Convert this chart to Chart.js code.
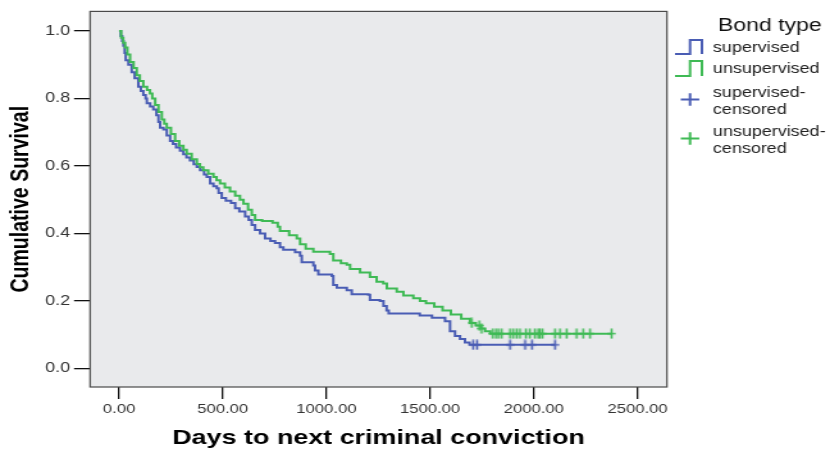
<!DOCTYPE html>
<html>
<head>
<meta charset="utf-8">
<script src="https://cdn.jsdelivr.net/npm/chart.js@4/dist/chart.umd.min.js"></script>
<style>
  html, body { margin: 0; padding: 0; background: #ffffff; }
  #wrap { width: 648px; height: 456px; transform: scaleX(1.28086); transform-origin: 0 0; }
</style>
</head>
<body>
<div id="wrap"><canvas id="km" width="648" height="456"></canvas></div>
<script>
// Kaplan-Meier estimates: event day and survival proportion after that event
const supervisedDays = [0, 8, 15, 21, 27, 32, 45, 61, 75, 93, 105, 117, 128, 134, 150, 165, 180, 190, 198, 214, 230, 246, 260, 275, 294, 310, 325, 342, 360, 375, 391, 410, 423, 439, 455, 471, 480, 495, 515, 540, 560, 580, 608, 625, 640, 656, 680, 704, 730, 752, 776, 792, 849, 873, 881, 937, 945, 961, 1026, 1033, 1050, 1098, 1122, 1202, 1210, 1258, 1275, 1290, 1300, 1450, 1509, 1572, 1596, 1620, 1644, 1668, 1690, 2102];
const supervisedSurvival = [1.0, 0.985, 0.97, 0.956, 0.935, 0.913, 0.90, 0.878, 0.86, 0.835, 0.822, 0.81, 0.80, 0.786, 0.776, 0.767, 0.75, 0.73, 0.713, 0.708, 0.69, 0.674, 0.665, 0.655, 0.645, 0.635, 0.625, 0.616, 0.605, 0.597, 0.587, 0.575, 0.567, 0.548, 0.54, 0.534, 0.52, 0.505, 0.497, 0.49, 0.475, 0.465, 0.45, 0.44, 0.425, 0.41, 0.40, 0.385, 0.378, 0.372, 0.359, 0.352, 0.344, 0.334, 0.315, 0.305, 0.29, 0.278, 0.274, 0.247, 0.239, 0.232, 0.22, 0.218, 0.203, 0.20, 0.185, 0.172, 0.163, 0.157, 0.15, 0.14, 0.11, 0.096, 0.087, 0.077, 0.07, 0.07];

const unsupervisedDays = [0, 10, 20, 29, 40, 53, 70, 85, 100, 117, 135, 149, 160, 174, 190, 206, 218, 230, 250, 270, 290, 310, 326, 350, 375, 390, 406, 430, 455, 470, 487, 510, 535, 560, 583, 600, 622, 640, 656, 690, 740, 765, 776, 820, 857, 873, 900, 937, 1017, 1033, 1070, 1098, 1114, 1162, 1210, 1242, 1274, 1291, 1339, 1371, 1419, 1451, 1480, 1520, 1560, 1600, 1650, 1692, 1720, 1745, 1765, 1790, 2375];
const unsupervisedSurvival = [1.0, 0.98, 0.965, 0.951, 0.93, 0.908, 0.89, 0.869, 0.852, 0.835, 0.825, 0.815, 0.80, 0.781, 0.76, 0.738, 0.725, 0.713, 0.695, 0.674, 0.66, 0.648, 0.636, 0.62, 0.606, 0.596, 0.587, 0.577, 0.567, 0.558, 0.548, 0.536, 0.524, 0.512, 0.50, 0.488, 0.47, 0.455, 0.44, 0.437, 0.432, 0.42, 0.407, 0.395, 0.385, 0.368, 0.355, 0.346, 0.339, 0.32, 0.312, 0.307, 0.295, 0.284, 0.271, 0.257, 0.252, 0.237, 0.227, 0.216, 0.208, 0.20, 0.193, 0.183, 0.172, 0.16, 0.147, 0.135, 0.127, 0.118, 0.11, 0.103, 0.103];

// Censored observation days
const supervisedCensored = [1707, 1726, 1885, 1958, 1991, 2102];
const unsupervisedCensored = [1700, 1737, 1748, 1802, 1817, 1829, 1845, 1885, 1901, 1917, 1933, 1962, 1981, 2005, 2021, 2029, 2042, 2102, 2126, 2158, 2206, 2238, 2271, 2375];

// Axis ticks
const xTicks = [0, 500, 1000, 1500, 2000, 2500];
const yTicks = [0.0, 0.2, 0.4, 0.6, 0.8, 1.0];

const BLUE = '#4a5db4';
const GREEN = '#3fba55';
const FONT = '"Liberation Sans", Arial, sans-serif';

function toPoints(days, surv) {
  return days.map((d, i) => ({ x: d, y: surv[i] }));
}
// survival value of a step curve at day t
function survivalAt(days, surv, t) {
  let v = surv[0];
  for (let i = 0; i < days.length; i++) { if (days[i] <= t) v = surv[i]; }
  return v;
}
function censorPoints(cDays, days, surv) {
  return cDays.map(d => ({ x: d, y: survivalAt(days, surv, d) }));
}
// narrow "+" marker used for censored cases
function plusMarker(color) {
  const c = document.createElement('canvas');
  c.width = 7; c.height = 11;
  const g = c.getContext('2d');
  g.strokeStyle = color; g.lineWidth = 1.6;
  g.beginPath();
  g.moveTo(3.5, 0.5); g.lineTo(3.5, 10.5);
  g.moveTo(0.3, 5.5); g.lineTo(6.7, 5.5);
  g.stroke();
  return c;
}

const plotFrame = {
  id: 'plotFrame',
  beforeDraw(chart) {
    const { ctx, chartArea: a } = chart;
    ctx.save();
    ctx.fillStyle = '#e9eaec';
    ctx.fillRect(a.left, a.top, a.right - a.left, a.bottom - a.top);
    ctx.restore();
  },
  afterDatasetsDraw(chart) {
    const { ctx, chartArea: a } = chart;
    ctx.save();
    ctx.strokeStyle = '#4a4a4a';
    ctx.lineWidth = 1.2;
    ctx.strokeRect(a.left, a.top, a.right - a.left, a.bottom - a.top);
    ctx.restore();
  }
};

// condensed, rotated y-axis title centred on the plot area
const yAxisTitle = {
  id: 'yAxisTitle',
  afterDraw(chart) {
    const { ctx, chartArea: a } = chart;
    ctx.save();
    ctx.translate(15.8, (a.top + a.bottom) / 2);
    ctx.rotate(-Math.PI / 2);
    ctx.scale(0.93, 1);
    ctx.font = 'bold 21px ' + FONT;
    ctx.fillStyle = '#000';
    ctx.textAlign = 'center';
    ctx.textBaseline = 'middle';
    ctx.fillText('Cumulative Survival', 0, 0);
    ctx.restore();
  }
};

const bondLegend = {
  id: 'bondLegend',
  afterDraw(chart) {
    const ctx = chart.ctx;
    ctx.save();
    ctx.fillStyle = '#111';
    ctx.textBaseline = 'alphabetic';
    ctx.textAlign = 'left';
    ctx.font = '18px ' + FONT;
    ctx.fillText('Bond type', 560.5, 31);

    function stepIcon(color, yLow, yHigh) {
      ctx.strokeStyle = color; ctx.lineWidth = 2;
      ctx.beginPath();
      ctx.moveTo(527, yLow); ctx.lineTo(538.7, yLow); ctx.lineTo(538.7, yHigh);
      ctx.lineTo(548, yHigh); ctx.lineTo(548, yLow);
      ctx.stroke();
    }
    function crossIcon(color, cy) {
      ctx.strokeStyle = color; ctx.lineWidth = 2;
      ctx.beginPath();
      ctx.moveTo(531.5, cy); ctx.lineTo(545.9, cy);
      ctx.moveTo(538.7, cy - 6.3); ctx.lineTo(538.7, cy + 6.3);
      ctx.stroke();
    }
    stepIcon(BLUE, 54, 40);
    stepIcon(GREEN, 76, 61);
    crossIcon(BLUE, 99.5);
    crossIcon(GREEN, 138.5);

    ctx.fillStyle = '#222';
    ctx.font = '14px ' + FONT;
    ctx.fillText('supervised', 556.6, 52);
    ctx.fillText('unsupervised', 556.6, 73);
    ctx.fillText('supervised-', 556.6, 97);
    ctx.fillText('censored', 556.6, 113.5);
    ctx.fillText('unsupervised-', 556.6, 136);
    ctx.fillText('censored', 556.6, 153);
    ctx.restore();
  }
};

new Chart(document.getElementById('km'), {
  type: 'scatter',
  data: {
    datasets: [
      {
        label: 'supervised',
        data: toPoints(supervisedDays, supervisedSurvival),
        showLine: true, stepped: 'before',
        borderColor: BLUE, borderWidth: 2, pointRadius: 0, order: 3
      },
      {
        label: 'unsupervised',
        data: toPoints(unsupervisedDays, unsupervisedSurvival),
        showLine: true, stepped: 'before',
        borderColor: GREEN, borderWidth: 2, pointRadius: 0, order: 2
      },
      {
        label: 'supervised-censored',
        data: censorPoints(supervisedCensored, supervisedDays, supervisedSurvival),
        showLine: false, pointStyle: plusMarker(BLUE), pointRadius: 5, order: 1
      },
      {
        label: 'unsupervised-censored',
        data: censorPoints(unsupervisedCensored, unsupervisedDays, unsupervisedSurvival),
        showLine: false, pointStyle: plusMarker(GREEN), pointRadius: 5, order: 0
      }
    ]
  },
  options: {
    responsive: false,
    animation: false,
    devicePixelRatio: 1,
    layout: { padding: { top: 5, right: 127.3, bottom: 0, left: 0 } },
    plugins: { legend: { display: false }, tooltip: { enabled: false } },
    scales: {
      x: {
        type: 'linear', min: -140, max: 2642,
        afterBuildTicks: s => { s.ticks = xTicks.map(v => ({ value: v })); },
        afterFit: s => { s.height = 69; },
        ticks: {
          callback: v => Number(v).toFixed(2),
          font: { size: 13, family: FONT }, color: '#333', padding: 3,
          maxRotation: 0, autoSkip: false
        },
        grid: { drawOnChartArea: false, tickLength: 12, color: '#111', lineWidth: 1.3 },
        border: { display: false },
        title: {
          display: true, text: 'Days to next criminal conviction',
          font: { size: 21, weight: 'bold', family: FONT }, color: '#000',
          padding: { top: 0, bottom: 5 }
        }
      },
      y: {
        type: 'linear', min: -0.055, max: 1.058,
        afterBuildTicks: s => { s.ticks = yTicks.map(v => ({ value: v })); },
        afterFit: s => { s.width = 70.3; },
        ticks: {
          callback: v => Number(v).toFixed(1),
          font: { size: 14, family: FONT }, color: '#333', padding: 3,
          autoSkip: false
        },
        grid: { drawOnChartArea: false, tickLength: 12.5, color: '#111', lineWidth: 1.3 },
        border: { display: false },
        title: { display: false }
      }
    }
  },
  plugins: [plotFrame, yAxisTitle, bondLegend]
});
</script>
</body>
</html>
